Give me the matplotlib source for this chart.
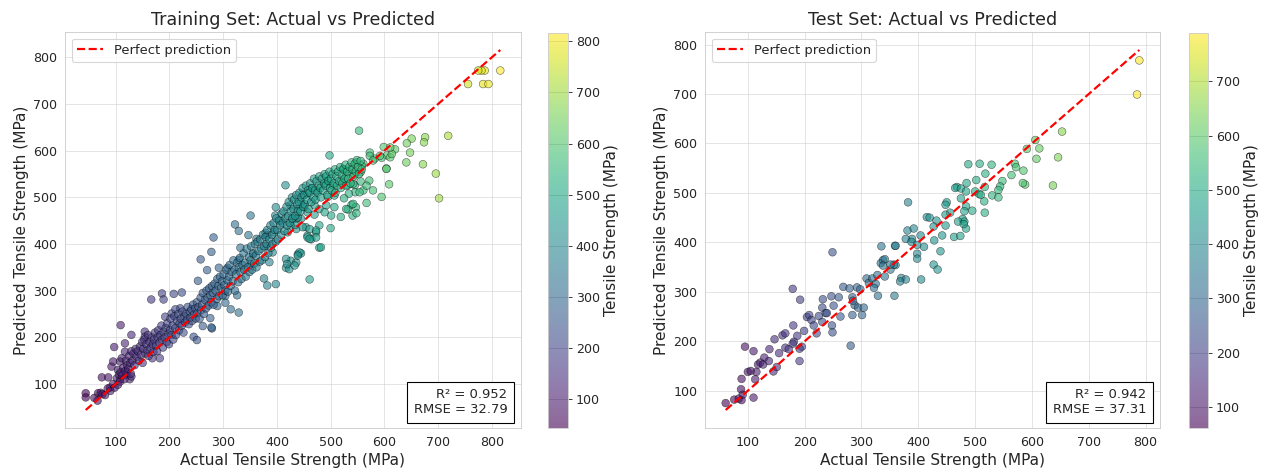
import numpy as np
import matplotlib
matplotlib.use("Agg")
import matplotlib.pyplot as plt
import seaborn as sns

# ---------------- data ----------------
train_pairs_low = [
    (44,80),(44,71),(67,80),(72,81),(89,92),(108,110),(120,119),(74,114),(86,114),(126,110),
    (129,116),(92,137),(104,130),(120,126),(97,179),(109,226),(129,205),(117,187),(117,169),(95,148),
    (108,148),(111,155),(166,281),(186,294),(189,281),(208,293),(154,212),(154,201),(182,155),(168,155),
    (192,244),(204,251),(220,262),(245,201),(251,194),(279,219),(276,241),
]
train_pairs_mid = [
    (397,461),(322,442),(329,428),(347,419),(362,411),(379,424),(282,414),(278,383),(258,367),(332,392),
    (356,378),(270,344),(253,321),(292,349),(308,349),(329,366),(351,356),(376,326),(382,311),(398,314),
    (417,349),(426,364),(436,360),(423,346),(461,324),(479,392),(439,378),(445,380),(464,410),(304,289),
    (326,290),(314,260),(329,253),(289,267),(304,274),(278,221),(262,224),(223,296),(211,260),
]
train_pairs_high = [
    (816,772),(787,772),(781,772),(775,772),(756,743),(784,743),(794,743),(553,643),(719,632),(676,629),
    (674,618),(651,626),(642,616),(648,596),(599,608),(605,590),(611,586),(620,603),(614,593),(641,575),
    (672,571),(696,551),(702,498),(573,596),(582,583),(595,585),(604,562),(609,528),(595,501),(567,488),
    (579,515),(561,572),(545,549),(556,554),(539,560),(528,558),(520,536),(532,526),(545,526),(556,534),
    (572,536),(561,515),(546,511),(534,508),(525,498),(504,526),(495,536),(489,529),(475,515),(465,520),
    (457,508),(495,501),(498,590),(507,504),(539,484),(547,479),(532,474),(507,479),(492,483),(479,475),
    (541,461),(519,458),(501,461),(489,468),(470,483),(451,479),(445,490),(457,468),(470,463),(445,454),
    (436,454),(425,483),(439,475),(416,526),(398,479),(407,450),(426,440),(420,425),(436,432),
    (454,436),(479,440),(500,434),(473,425),(457,418),(351,461),(382,418),(395,425),
    (429,454),(439,457),(434,441),(448,436),(461,432),(473,429),(457,414),(473,414),(482,393),(461,411),
    (442,382),(439,375),(417,368),(419,357),(433,354),(392,382),(386,361),(379,396),(529,475),(542,486),
    (548,466),(567,525),(554,511),(542,529),(529,546),(523,561),(548,575),(558,568),(573,589),(579,579),
    (604,561),(592,589),(611,607),(448,507),
]
train_pairs_core = [
    (60,70),(66,64),(75,78),(80,76),(85,90),(90,85),(95,100),(98,92),
    (102,112),(104,98),(106,120),(108,105),(109,125),
    (112,118),(114,135),(116,110),(118,128),(119,150),
    (121,140),(123,132),(125,160),(127,145),(128,122),(129,170),
    (131,150),(133,165),(135,140),(137,175),(139,158),
    (141,170),(143,150),(145,180),(147,162),(149,190),(150,145),
    (151,175),(153,195),(155,165),(157,185),(159,172),(160,205),
    (161,160),(163,190),(165,178),(167,200),(169,185),(170,168),
    (171,195),(173,210),(175,182),(177,170),(178,200),(179,215),
    (181,188),(183,205),(185,225),(186,195),(188,178),(189,212),
    (191,200),(193,220),(195,190),(196,230),(198,208),(199,185),
    (201,215),(202,240),(204,205),(206,225),(207,195),(209,245),
    (211,220),(212,205),(214,235),(216,250),(218,215),(219,230),
    (221,240),(223,225),(224,255),(226,210),(228,245),(229,232),
    (231,250),(233,238),(234,265),(236,228),(238,255),(239,242),
    (241,260),(242,235),(244,270),(246,250),(248,262),(249,240),
    (251,275),(252,252),(254,265),(256,240),(258,285),(259,258),
    (261,270),(262,295),(264,250),(266,280),(268,262),(269,300),
    (271,285),(273,268),(274,305),(276,290),(278,275),(279,310),
    (281,295),(282,270),(284,315),(286,300),(288,282),(289,325),
    (291,310),(292,288),(294,330),(296,305),(298,320),(299,290),
    (301,335),(302,312),(304,300),(306,345),(308,322),(309,298),
    (311,330),(312,355),(314,310),(316,340),(318,320),(319,365),
    (321,345),(322,300),(324,335),(326,360),(328,318),(329,350),
    (331,370),(332,340),(334,325),(336,355),(338,380),(339,345),
    (341,360),(342,330),(344,390),(346,350),(348,372),(349,340),
    (351,365),(352,395),(354,345),(356,380),(358,358),(359,400),
    (361,375),(362,350),(364,405),(366,385),(368,362),(369,410),
    (371,390),(372,365),(374,420),(376,395),(378,372),(379,415),
    (381,400),(382,430),(384,380),(386,410),(388,440),(389,392),
    (391,420),(392,400),(394,445),(396,430),(398,405),(399,455),
    (401,430),(402,410),(404,450),(406,440),(408,420),(409,465),
    (411,445),(412,470),(414,428),(416,455),(418,480),(419,440),
    (421,460),(422,490),(424,445),(426,470),(428,500),(429,455),
    (431,475),(432,495),(434,460),(436,505),(438,485),(439,470),
    (441,490),(442,510),(444,470),(446,500),(448,520),(449,480),
    (451,505),(452,485),(454,525),(456,495),(458,515),(459,475),
    (461,510),(462,530),(464,490),(466,520),(468,500),(469,540),
    (471,515),(472,495),(474,535),(476,510),(478,525),(479,545),
    (481,520),(482,500),(484,540),(486,515),(488,530),(489,550),
    (491,525),(492,545),(494,505),(496,535),(498,555),(499,520),
    (501,540),(502,515),(504,550),(506,530),(508,560),(509,510),
    (511,545),(512,525),(514,555),(516,535),(518,565),(519,520),
    (521,548),(522,530),(524,560),(526,540),(528,570),(529,525),
    (531,555),(533,540),(535,565),(537,530),(539,575),
    (541,560),(543,545),(545,572),(547,555),(549,580),
    (551,565),(553,550),(556,578),(558,560),
]
test_pairs = [
    (61,75),(76,82),(84,84),(89,81),(91,92),(88,103),(110,86),(89,124),(113,123),(115,138),
    (100,138),(105,140),(118,153),(122,157),(129,167),(127,153),(137,160),(145,139),(151,148),(95,189),
    (110,180),(138,184),(155,176),(147,204),(161,212),(166,216),(166,187),(172,184),(180,232),(181,199),
    (187,211),(179,195),(191,160),(195,189),(191,185),(199,221),(204,249),(208,253),(212,243),(192,284),
    (179,306),(216,232),(221,216),(225,251),(231,268),(237,257),(232,285),(247,291),(251,272),(248,232),
    (249,218),(231,239),(239,257),(260,289),(263,250),(268,310),(279,307),(284,289),(288,273),(284,253),
    (294,268),(301,253),(304,268),(292,309),(298,305),(309,327),(313,318),(319,327),(325,316),(329,292),
    (328,334),(334,358),(341,331),(351,345),(358,292),(360,354),(359,393),(335,392),(370,328),(338,364),
    (281,191),(249,380),(285,282),(322,308),
    (381,424),(389,407),(404,414),(410,391),(398,377),(398,367),(428,404),(442,414),(439,382),(427,355),
    (434,345),(405,325),(378,325),(368,321),(357,355),(341,366),(351,355),(338,353),(360,393),(463,411),
    (474,413),(484,428),
    (789,768),(785,699),(653,624),(606,607),(591,589),(613,590),(608,569),(646,572),(637,515),(570,559),
    (572,552),(585,545),(564,536),(588,517),(584,520),(488,558),(508,559),(529,557),(548,524),(544,513),
    (541,506),(518,539),(502,526),(485,520),(468,512),(465,510),(475,509),(484,503),(500,503),(507,498),
    (517,512),(510,496),(530,495),(541,491),(516,483),(475,489),(450,481),(448,476),(484,473),(495,464),
    (517,460),(481,463),(456,460),(448,456),(415,451),(420,450),(432,444),(478,447),(481,442),(470,442),
    (480,437),(448,434),(427,432),(392,428),(378,407),(388,401),(398,395),(382,481),
]
train_r2, train_rmse = 0.952, 32.79
test_r2, test_rmse = 0.942, 37.31

train_all = train_pairs_low + train_pairs_mid + train_pairs_high + train_pairs_core
train_actual = np.array([p[0] for p in train_all], dtype=float)
train_pred = np.array([p[1] for p in train_all], dtype=float)
test_actual = np.array([p[0] for p in test_pairs], dtype=float)
test_pred = np.array([p[1] for p in test_pairs], dtype=float)

# ---------------- figure ----------------
sns.set_style("whitegrid")
plt.rcParams['font.family'] = ['DejaVu Sans']
DPI = 79
W, H = 1265, 471
fig = plt.figure(figsize=(W / DPI, H / DPI), dpi=DPI)

def px_axes(l, t, r, b):
    return [l / W, 1 - b / H, (r - l) / W, (b - t) / H]

panels = [
    dict(ax=px_axes(65, 32, 521, 428), cax=px_axes(548, 33, 568, 428),
         a=train_actual, p=train_pred, title='Training Set: Actual vs Predicted',
         r2=train_r2, rmse=train_rmse),
    dict(ax=px_axes(705, 32, 1160, 428), cax=px_axes(1189, 33, 1208, 428),
         a=test_actual, p=test_pred, title='Test Set: Actual vs Predicted',
         r2=test_r2, rmse=test_rmse),
]

for pnl in panels:
    ax = fig.add_axes(pnl['ax'])
    cax = fig.add_axes(pnl['cax'])
    a, p = pnl['a'], pnl['p']
    sc = ax.scatter(a, p, c=a, cmap='viridis', alpha=0.6, edgecolors='black',
                    linewidths=0.5, s=50, zorder=2)
    mn = min(a.min(), p.min())
    mx = max(a.max(), p.max())
    ax.plot([mn, mx], [mn, mx], 'r--', lw=2, label='Perfect prediction', zorder=3)
    ax.set_xlabel('Actual Tensile Strength (MPa)', fontsize=14)
    ax.set_ylabel('Predicted Tensile Strength (MPa)', fontsize=14)
    ax.set_title(pnl['title'], fontsize=16)
    ax.tick_params(labelsize=11.5)
    ax.legend(loc='upper left', fontsize=12)
    ax.grid(True, alpha=0.6)
    ax.text(0.97, 0.03, f"R\u00b2 = {pnl['r2']:.3f}\nRMSE = {pnl['rmse']:.2f}",
            transform=ax.transAxes, ha='right', va='bottom', fontsize=12,
            bbox=dict(boxstyle='square,pad=0.5', facecolor='white', edgecolor='black'),
            zorder=5)
    cb = fig.colorbar(sc, cax=cax)
    cb.set_label('Tensile Strength (MPa)', fontsize=14)
    cb.ax.tick_params(labelsize=11.5)

fig.savefig('out.png', dpi=DPI)
